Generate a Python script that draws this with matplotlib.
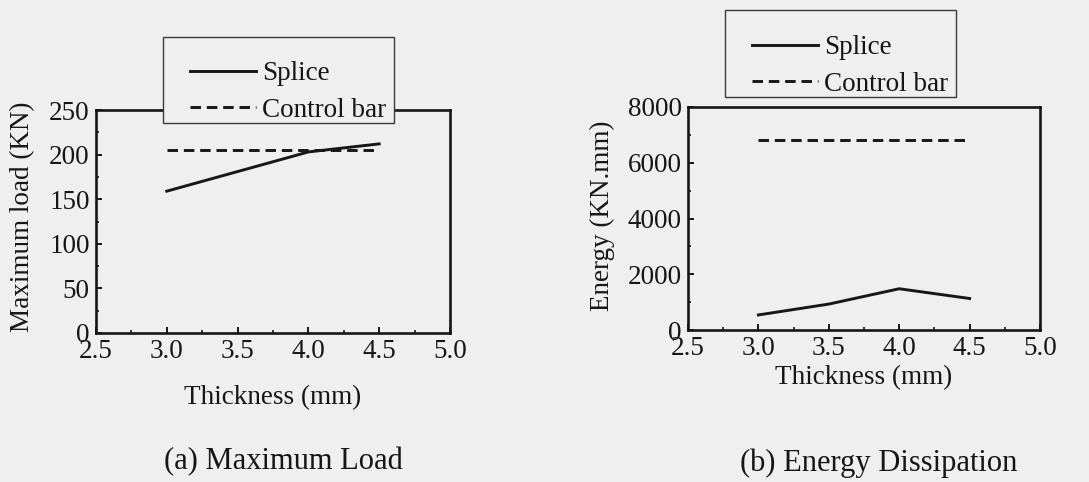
import matplotlib
matplotlib.use("Agg")
import matplotlib.pyplot as plt
from matplotlib.patches import Rectangle
from matplotlib.ticker import MultipleLocator

plt.rcParams["font.family"] = ["Liberation Serif", "DejaVu Serif"]

# Data
thickness = [3.0, 3.5, 4.0, 4.5]
splice_load = [159, 181, 203, 212]
control_load = [205, 205, 205, 205]
splice_energy = [540, 930, 1480, 1130]
control_energy = [6820, 6820, 6820, 6820]

x_ticks = [2.5, 3.0, 3.5, 4.0, 4.5, 5.0]
load_ticks = [0, 50, 100, 150, 200, 250]
energy_ticks = [0, 2000, 4000, 6000, 8000]

BG = "#efefef"
INK = "#161616"
W, H = 1089, 482
FS = 19.5

fig = plt.figure(figsize=(W / 100, H / 100), dpi=100, facecolor=BG)


def px_box(x0, y0, x1, y1):
    """Convert a pixel box (top-left origin) to figure fractions."""
    return [x0 / W, 1 - y1 / H, (x1 - x0) / W, (y1 - y0) / H]


def style_axes(ax, xlim, ylim, yticks, ymin):
    ax.set_facecolor(BG)
    ax.set_xlim(*xlim)
    ax.set_ylim(*ylim)
    ax.set_xticks(x_ticks)
    ax.set_xticklabels([f"{t:.1f}" for t in x_ticks])
    ax.set_yticks(yticks)
    ax.xaxis.set_minor_locator(MultipleLocator(0.25))
    ax.yaxis.set_minor_locator(MultipleLocator(ymin))
    ax.tick_params(which="both", direction="in", top=False, right=False,
                   labelsize=FS, colors=INK)
    ax.tick_params(which="major", length=4, width=1.4, pad=4.5)
    ax.tick_params(which="minor", length=2.5, width=1.2)
    for s in ax.spines.values():
        s.set_linewidth(1.9)
        s.set_color(INK)


def add_legend(ax, box, line_x, mid_y):
    x0, y0, x1, y1 = box
    rect = Rectangle((x0 / W, 1 - y1 / H), (x1 - x0) / W, (y1 - y0) / H,
                     transform=fig.transFigure, facecolor=BG,
                     edgecolor="#3a3a3a", linewidth=1.0, zorder=5)
    fig.patches.append(rect)
    handles, labels = ax.get_legend_handles_labels()
    leg = fig.legend(handles, labels, loc="center left",
                     bbox_to_anchor=(line_x / W, 1 - mid_y / H),
                     frameon=False, fontsize=FS, handlelength=2.45,
                     handletextpad=0.2, labelspacing=0.42, borderpad=0,
                     borderaxespad=0)
    leg.set_zorder(6)
    for t in leg.get_texts():
        t.set_color(INK)


line_kw = dict(color=INK, linewidth=2.1)
dash_kw = dict(color=INK, linewidth=2.1, dashes=(3.6, 2.0))

# (a) Maximum load
ax1 = fig.add_axes(px_box(96, 110, 450, 333))
ax1.plot(thickness, splice_load, label="Splice", **line_kw)
ax1.plot(thickness, control_load, label="Control bar", **dash_kw)
style_axes(ax1, (2.5, 5.0), (0, 250), load_ticks, 25)
ax1.set_ylabel("Maximum load (KN)", fontsize=FS, va="center", color=INK)
ax1.yaxis.set_label_coords(-0.206, 0.522)
ax1.set_xlabel("Thickness (mm)", fontsize=FS, va="center", color=INK)
ax1.xaxis.set_label_coords(0.5, -0.291)
add_legend(ax1, (163, 37, 394, 123), 190, 92)
fig.text(283 / W, 1 - 462 / H, "(a) Maximum Load", fontsize=22,
         ha="center", va="center", color=INK)

# (b) Energy dissipation
ax2 = fig.add_axes(px_box(688, 107, 1040, 330))
ax2.plot(thickness, splice_energy, label="Splice", **line_kw)
ax2.plot(thickness, control_energy, label="Control bar", **dash_kw)
style_axes(ax2, (2.5, 5.0), (0, 8000), energy_ticks, 1000)
ax2.set_ylabel("Energy (KN.mm)", fontsize=FS, va="center", color=INK)
ax2.yaxis.set_label_coords(-0.244, 0.511)
ax2.set_xlabel("Thickness (mm)", fontsize=FS, va="center", color=INK)
ax2.xaxis.set_label_coords(0.5, -0.215)
add_legend(ax2, (725, 10, 956, 97), 752, 66)
fig.text(879 / W, 1 - 463 / H, "(b) Energy Dissipation", fontsize=22,
         ha="center", va="center", color=INK)

fig.savefig("out.png", dpi=100, facecolor=BG)
